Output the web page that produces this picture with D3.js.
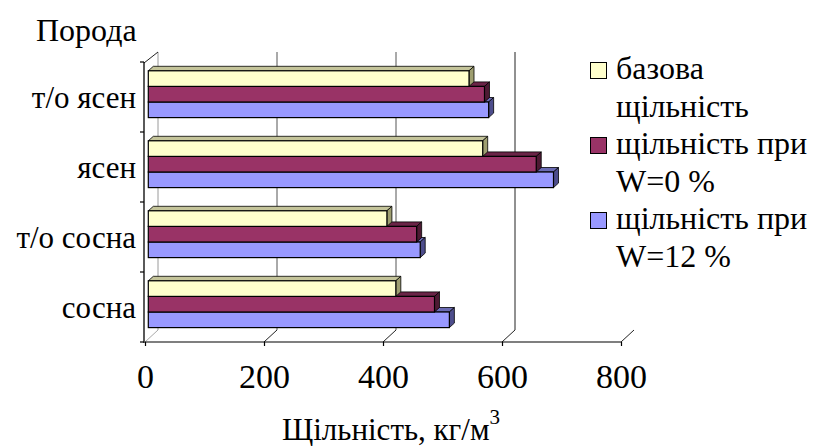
<!DOCTYPE html>
<html>
<head>
<meta charset="utf-8">
<script src="https://cdn.jsdelivr.net/npm/d3@7/dist/d3.min.js"></script>
<style>
  html, body { margin: 0; padding: 0; background: #fff; }
  svg { display: block; }
</style>
</head>
<body>
<svg id="chart" width="815" height="446"></svg>
<script>
// Wood species (top to bottom) and density series, kg/m3
const categories = ["т/о ясен", "ясен", "т/о сосна", "сосна"];
const seriesNames = ["базова щільність", "щільність при W=0 %", "щільність при W=12 %"];
const baseDensity = [539, 562, 401, 416];
const densityW0 = [565, 652, 451, 481];
const densityW12 = [572, 681, 457, 506];
const xTicks = [0, 200, 400, 600, 800];
const legendLines = [["базова", "щільність"], ["щільність при", "W=0 %"], ["щільність при", "W=12 %"]];

const series = [baseDensity, densityW0, densityW12];
const fills = ["#ffffcc", "#993366", "#9999ff"];
const topFills = ["#c4c49a", "#6b2447", "#6b6bb3"];
const sideFills = ["#9e9e70", "#4d1a33", "#4d4d8c"];
const FONT = "'Liberation Serif'";

const svg = d3.select("#chart");

// front edge of the floor / left wall
const x = d3.scaleLinear().domain([0, 800]).range([145, 621]);
const y = d3.scaleBand().domain(categories).range([62, 342]);
const inner = d3.scaleBand().domain(seriesNames).range([8.8, 55.6]);

// oblique depth of the plot box
const DX = 13, DYtop = -10, DYbot = -12;
// bars sit a little behind the front plane
const barShift = 3.3;
// small extrusion of each bar
const bdx = 5, bdy = -4.5;

const floorY = 342, topY = 62;

// back wall gridlines
svg.append("g").selectAll("line").data(xTicks.slice(0, 4)).join("line")
  .attr("x1", d => x(d) + DX).attr("x2", d => x(d) + DX)
  .attr("y1", topY + DYtop).attr("y2", floorY + DYbot)
  .attr("stroke", (d, i) => i === 0 ? "#9a9a9a" : (i === 3 ? "#222" : "#555"))
  .attr("stroke-width", 1);

// floor depth lines
svg.append("g").selectAll("line").data(xTicks).join("line")
  .attr("x1", d => x(d)).attr("y1", floorY)
  .attr("x2", d => x(d) + DX).attr("y2", floorY + DYbot)
  .attr("stroke", (d, i) => i === 0 ? "#aaa" : "#222")
  .attr("stroke-width", 1);

// top edge of left wall
svg.append("line")
  .attr("x1", x(0) - 1).attr("y1", topY + 1)
  .attr("x2", x(0) + DX).attr("y2", topY + DYtop)
  .attr("stroke", "#222");

// bars
const groups = svg.append("g").selectAll("g").data(categories).join("g")
  .attr("transform", d => `translate(0,${y(d)})`);

groups.each(function (cat, ci) {
  const g = d3.select(this);
  // draw bottom bar first so that upper bars overlap its top face
  for (let si = series.length - 1; si >= 0; si--) {
    const v = series[si][ci];
    const x0 = x(0) + barShift, x1 = x(v) + barShift;
    const y0 = inner(seriesNames[si]), h = inner.bandwidth();
    const y1 = y0 + h;
    // top face
    g.append("path")
      .attr("d", `M${x0},${y0}L${x0 + bdx},${y0 + bdy}L${x1 + bdx},${y0 + bdy}L${x1},${y0}Z`)
      .attr("fill", topFills[si]).attr("stroke", "#000").attr("stroke-width", 0.8)
      .attr("stroke-linejoin", "round");
    // side face
    g.append("path")
      .attr("d", `M${x1},${y0}L${x1 + bdx},${y0 + bdy}L${x1 + bdx},${y1 + bdy}L${x1},${y1}Z`)
      .attr("fill", sideFills[si]).attr("stroke", "#000").attr("stroke-width", 0.8)
      .attr("stroke-linejoin", "round");
    // front face
    g.append("rect")
      .attr("x", x0).attr("y", y0).attr("width", x1 - x0).attr("height", h)
      .attr("fill", fills[si]).attr("stroke", "#000").attr("stroke-width", 1.2);
  }
});

// left wall axis line and ticks
svg.append("line")
  .attr("x1", x(0) - 1).attr("x2", x(0) - 1)
  .attr("y1", topY).attr("y2", floorY + 1)
  .attr("stroke", "#000").attr("stroke-width", 1.3);
const bounds = categories.map(c => y(c)).concat([floorY]);
svg.append("g").selectAll("line").data(bounds).join("line")
  .attr("x1", x(0) - 5).attr("x2", x(0) - 1)
  .attr("y1", d => d).attr("y2", d => d)
  .attr("stroke", "#000").attr("stroke-width", 1.2);

// front floor line and value axis
const xAxis = d3.axisBottom(x).tickValues(xTicks).tickSize(4).tickPadding(18)
  .tickFormat(d3.format("d"));
const ax = svg.append("g").attr("transform", `translate(0,${floorY})`).call(xAxis)
  .attr("font-family", null).attr("font-size", null);
ax.select(".domain").attr("stroke", "#000").attr("stroke-width", 1.2)
  .attr("d", `M${x(0)},0H${x(800)}`);
ax.selectAll(".tick line").attr("stroke", "#000").attr("stroke-width", 1.2);
ax.selectAll(".tick text")
  .style("font-family", FONT).style("font-size", "34px").attr("fill", "#000");

// category labels
svg.append("g").selectAll("text").data(categories).join("text")
  .attr("x", 136).attr("y", d => y(d) + y.bandwidth() / 2 + 11)
  .attr("text-anchor", "end").style("font-family", FONT).style("font-size", "31px")
  .attr("fill", "#000").text(d => d);

// axis titles
svg.append("text").attr("x", 36).attr("y", 41)
  .style("font-family", FONT).style("font-size", "32px").attr("fill", "#000").text("Порода");

const xt = svg.append("text").attr("x", 391).attr("y", 440)
  .attr("text-anchor", "middle").style("font-family", FONT).style("font-size", "31px")
  .attr("fill", "#000");
xt.append("tspan").text("Щільність, кг/м");
xt.append("tspan").style("font-size", "21px").attr("dy", -16).text("3");

// legend
const lg = svg.append("g").selectAll("g").data(seriesNames).join("g")
  .attr("transform", (d, i) => `translate(590,${79 + i * 75})`);
lg.append("rect").attr("x", 0.5).attr("y", -16.5).attr("width", 16).attr("height", 16)
  .attr("fill", (d, i) => fills[i]).attr("stroke", "#000").attr("stroke-width", 1);
lg.each(function (d, i) {
  d3.select(this).selectAll("text").data(legendLines[i]).join("text")
    .attr("x", 26).attr("y", (t, j) => j * 37.5)
    .style("font-family", FONT).style("font-size", "32px")
    .attr("fill", "#000").text(t => t);
});
</script>
</body>
</html>
